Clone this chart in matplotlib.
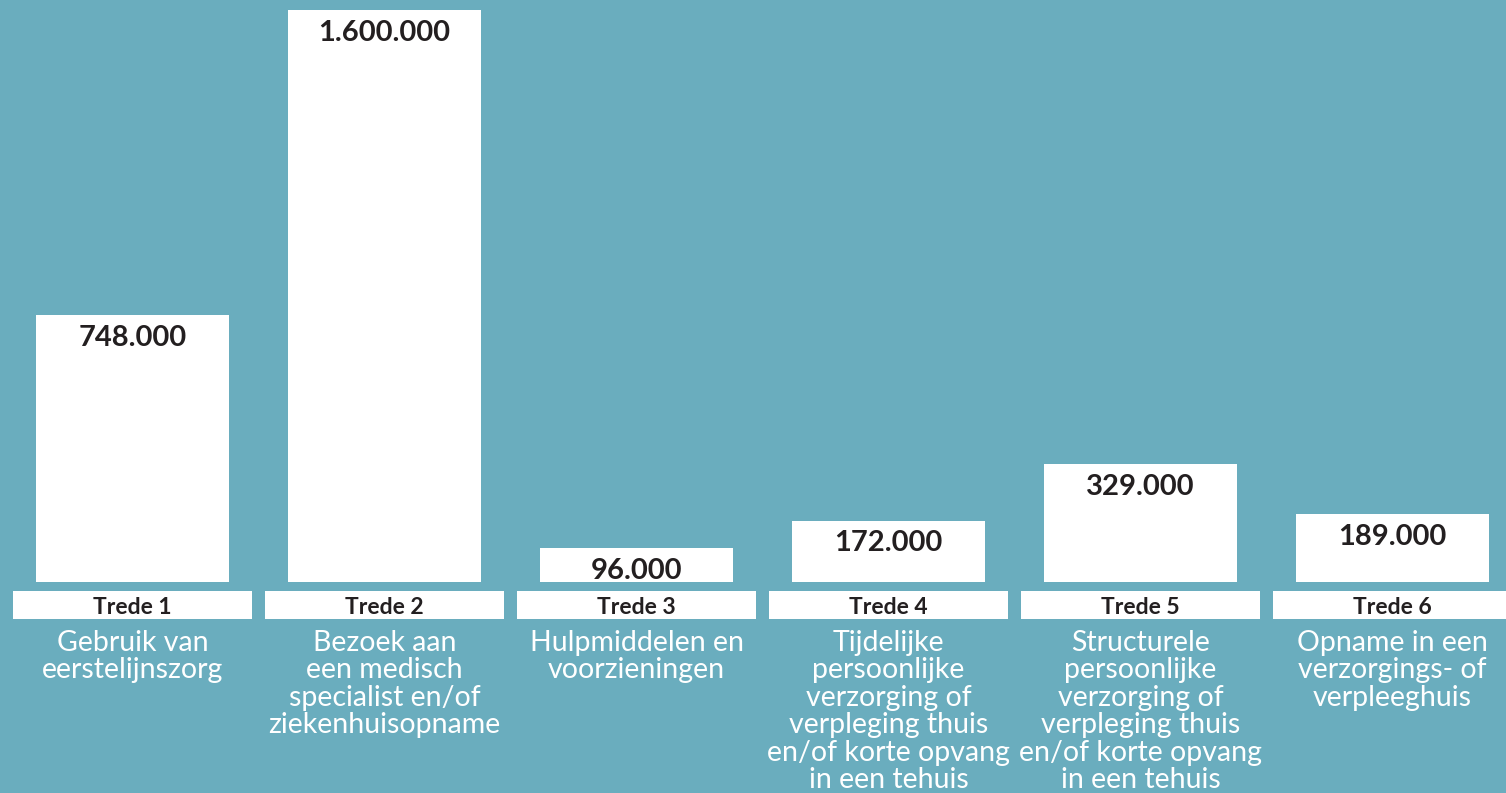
import matplotlib
matplotlib.use("Agg")
import matplotlib.pyplot as plt
from matplotlib.patches import Rectangle
from matplotlib.transforms import blended_transform_factory

# data
steps = ["Trede 1", "Trede 2", "Trede 3", "Trede 4", "Trede 5", "Trede 6"]
values = [748000, 1600000, 96000, 172000, 329000, 189000]
value_labels = ["748.000", "1.600.000", "96.000", "172.000", "329.000", "189.000"]
descriptions = [
    "Gebruik van\neerstelijnszorg",
    "Bezoek aan\neen medisch\nspecialist en/of\nziekenhuisopname",
    "Hulpmiddelen en\nvoorzieningen",
    "Tijdelijke\npersoonlijke\nverzorging of\nverpleging thuis\nen/of korte opvang\nin een tehuis",
    "Structurele\npersoonlijke\nverzorging of\nverpleging thuis\nen/of korte opvang\nin een tehuis",
    "Opname in een\nverzorgings- of\nverpleeghuis",
]

bg = "#6aadbe"
dark = "#231f20"
fam = ["Lato", "DejaVu Sans"]

fig = plt.figure(figsize=(15.06, 7.93), dpi=100, facecolor=bg)
ax = fig.add_axes([0, 0, 1, 1])
ax.set_facecolor(bg)

x = list(range(len(values)))
ax.bar(x, values, width=0.766, color="white", zorder=2)

# pixel mapping: center of bar 0 at 132.5 px, 252 px per step
ax.set_xlim(-132.5 / 252, (1506 - 132.5) / 252)
ax.set_ylim(-211 / 572 * 1.6e6, 582 / 572 * 1.6e6)
ax.axis("off")

for xi, v, lab in zip(x, values, value_labels):
    ax.annotate(lab, (xi, v), xytext=(0, -16.5), textcoords="offset points",
                ha="center", va="center", fontsize=21, fontweight="bold",
                color=dark, family=fam)

tr = blended_transform_factory(ax.transData, ax.transAxes)
for xi, s, d in zip(x, steps, descriptions):
    ax.add_patch(Rectangle((xi - 0.474, 1 - 619 / 793), 0.948, 28 / 793,
                           transform=tr, facecolor="white", edgecolor="none",
                           zorder=2, clip_on=False))
    ax.text(xi, 1 - 607.5 / 793, s, transform=tr, ha="center", va="center",
            fontsize=16.5, fontweight="bold", color=dark, family=fam, zorder=3)
    ax.text(xi, 1 - 630 / 793, d, transform=tr, ha="center", va="top",
            fontsize=20.5, color="white", family=fam, linespacing=1.07)

fig.savefig("out.png", dpi=100, facecolor=bg)
